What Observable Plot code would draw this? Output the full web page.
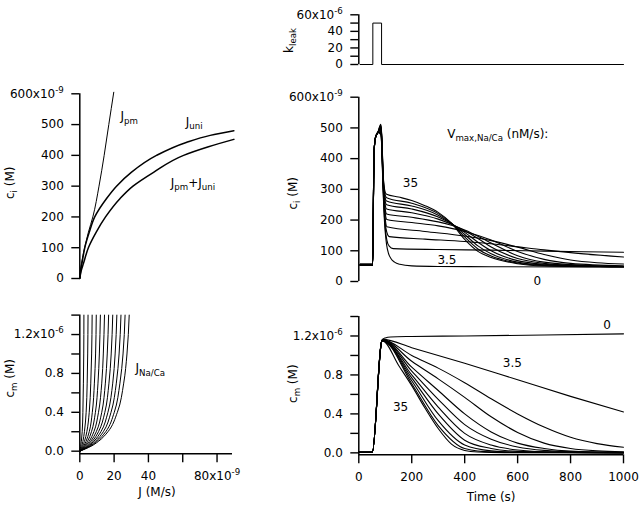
<!DOCTYPE html>
<html><head><meta charset="utf-8">
<script src="https://cdn.jsdelivr.net/npm/d3@7"></script>
<script src="https://cdn.jsdelivr.net/npm/@observablehq/plot@0.6"></script>
<style>
body{margin:0;background:#fff;}
#fig{position:relative;width:640px;height:505px;overflow:hidden;background:#fff;font-family:"DejaVu Sans",sans-serif;}
#fig svg{position:absolute;overflow:visible;}
#fig g[aria-label^="y-axis"] line,#fig g[aria-label^="x-axis"] line,
#fig g[aria-label^="y-axis"] path,#fig g[aria-label^="x-axis"] path{stroke-width:1.4px;}
</style></head><body><div id="fig"></div>
<script>
// ---------- Top-left: c_i (nM) versus J (nM/s) ----------
const ciPm  = [0, 25, 50, 100, 150, 200, 300, 400, 500, 605];
const jPm   = [0, 0.3, 1.0, 2.8, 5.0, 7.6, 11.2, 14.2, 16.9, 19.8];
const ciUni = [0, 25, 50, 100, 150, 200, 260, 300, 345, 400, 442, 465, 480];
const jUni  = [0, 0.5, 1.3, 2.9, 5.5, 8.7, 15.6, 21.4, 30, 44.7, 62, 76, 89.8];
const ciSum = [0, 25, 50, 100, 150, 200, 260, 300, 345, 400, 428, 452];
const jSum  = [0, 0.8, 2.2, 5, 9.5, 15, 23.5, 31, 43, 60.5, 75, 89.8];
const ciTicksA = [0, 100, 200, 300, 400, 500, 600];

// ---------- Bottom-left: c_m (uM) versus J_Na/Ca (nM/s) ----------
const cmLevels = [0, 0.05, 0.1, 0.2, 0.4, 0.7, 1.0, 1.4];
const jNaCa = [
  [0, 0.5, 0.9, 1.4, 1.8, 2.1, 2.3, 2.4],
  [0, 1.1, 1.8, 2.7, 3.7, 4.3, 4.6, 4.8],
  [0, 1.6, 2.7, 4.1, 5.5, 6.4, 6.9, 7.2],
  [0, 2.2, 3.6, 5.5, 7.3, 8.5, 9.2, 9.6],
  [0, 2.7, 4.5, 6.8, 9.1, 10.6, 11.4, 12.0],
  [0, 3.2, 5.4, 8.2, 10.9, 12.8, 13.7, 14.4],
  [0, 3.8, 6.3, 9.6, 12.8, 14.9, 16.0, 16.8],
  [0, 4.3, 7.2, 10.9, 14.6, 17.0, 18.3, 19.2],
  [0, 4.8, 8.1, 12.3, 16.4, 19.2, 20.6, 21.6],
  [0, 5.4, 9.0, 13.7, 18.2, 21.3, 22.9, 24.0],
  [0, 5.9, 9.9, 15.1, 20.1, 23.4, 25.2, 26.4],
  [0, 6.5, 10.8, 16.4, 21.9, 25.6, 27.5, 28.8]
];
const jTicks = [0, 20, 40, 60, 80];
const cmTicks = [0, 0.2, 0.4, 0.6, 0.8, 1.0, 1.2, 1.4];

// ---------- Top-right: k_leak (1e-6 /s) versus time (s) ----------
const kleakTime  = [5, 53, 53, 86, 86, 1000];
const kleakValue = [0, 0, 50, 50, 0, 0];
const kleakTicks = [0, 10, 20, 30, 40, 50, 60];

// ---------- Right: V_max,Na/Ca series (nM/s) ----------
const vmax = [0, 3.5, 7, 10.5, 14, 17.5, 21, 24.5, 28, 31.5, 35];

// c_i (nM) versus time
const ciBase  = [52, 52, 53, 53, 54, 54, 55, 55, 56, 56, 57];
const ciRiseT = [54, 56, 59, 63, 72];
const ciRiseC = [150, 330, 440, 468, 485];
const ciPeak  = [478, 482, 486, 490, 494, 497, 500, 503, 506, 509, 512];
const ciTailT = [
  [86, 89, 92, 96, 100, 105, 112, 122, 135, 155, 200, 300, 500, 1000],
  [86, 89, 92, 96, 100, 106, 115, 130, 300, 500, 700, 850, 1000],
  [86, 89, 92, 96, 100, 106, 115, 250, 400, 550, 700, 850, 1000],
  [86, 89, 92, 96, 100, 106, 250, 400, 500, 600, 700, 800, 900, 1000],
  [86, 89, 92, 96, 100, 106, 200, 300, 400, 500, 600, 700, 800, 1000],
  [86, 89, 92, 96, 100, 105, 200, 300, 350, 400, 500, 600, 700, 850, 1000],
  [86, 89, 92, 96, 100, 105, 200, 300, 350, 400, 450, 500, 600, 700, 850, 1000],
  [86, 89, 92, 96, 100, 105, 200, 300, 350, 400, 450, 500, 600, 700, 850, 1000],
  [86, 89, 92, 96, 100, 105, 200, 300, 350, 400, 450, 500, 600, 700, 1000],
  [86, 89, 92, 96, 100, 105, 200, 300, 350, 400, 450, 500, 600, 700, 1000],
  [86, 89, 92, 96, 100, 105, 150, 200, 250, 300, 350, 400, 450, 500, 600, 700, 1000]
];
const ciTailC = [
  [450, 370, 290, 210, 160, 120, 92, 74, 63, 56, 51, 49, 48, 47],
  [455, 380, 300, 225, 172, 135, 115, 107, 104, 102, 99, 97, 95],
  [460, 385, 310, 240, 190, 160, 146, 138, 130, 118, 103, 90, 80],
  [465, 390, 315, 250, 205, 178, 163, 148, 133, 112, 88, 70, 61, 57],
  [468, 395, 320, 260, 222, 202, 192, 181, 163, 135, 98, 72, 59, 51],
  [472, 400, 325, 268, 235, 220, 209, 194, 183, 168, 125, 84, 63, 53, 49],
  [475, 405, 330, 276, 248, 236, 224, 203, 186, 165, 140, 112, 75, 59, 51, 48],
  [478, 410, 335, 284, 260, 250, 236, 210, 188, 160, 128, 100, 68, 56, 50, 48],
  [480, 415, 340, 292, 271, 262, 246, 216, 189, 153, 116, 90, 63, 54, 48],
  [483, 420, 345, 300, 281, 273, 255, 221, 190, 145, 106, 83, 60, 52, 48],
  [486, 425, 350, 308, 290, 284, 275, 264, 247, 225, 190, 137, 98, 78, 58, 51, 48]
];
const ciTicksD = [0, 100, 200, 300, 400, 500, 600];

// c_m (uM) versus time
const cmRiseT = [0, 51, 86];
const cmRiseC = [0.005, 0.005, 1.14];
const cmTailT = [
  [90, 100, 120, 200, 400, 700, 1000],
  [90, 200, 400, 600, 800, 1000],
  [90, 200, 300, 400, 500, 600, 700, 800, 900, 1000],
  [90, 200, 300, 400, 500, 600, 700, 800, 900, 1000],
  [90, 200, 300, 400, 500, 600, 700, 800, 1000],
  [90, 200, 300, 400, 500, 600, 700, 850, 1000],
  [90, 200, 300, 400, 500, 600, 750, 1000],
  [90, 200, 300, 400, 500, 600, 800, 1000],
  [90, 200, 300, 400, 500, 600, 1000],
  [90, 200, 300, 400, 500, 1000],
  [90, 150, 200, 250, 300, 350, 400, 450, 550, 1000]
];
const cmTailC = [
  [1.165, 1.18, 1.19, 1.195, 1.2, 1.21, 1.222],
  [1.165, 1.08, 0.92, 0.75, 0.58, 0.42],
  [1.16, 1.0, 0.87, 0.72, 0.555, 0.40, 0.265, 0.16, 0.095, 0.058],
  [1.16, 0.94, 0.76, 0.57, 0.37, 0.21, 0.10, 0.045, 0.02, 0.01],
  [1.16, 0.88, 0.64, 0.40, 0.215, 0.10, 0.045, 0.018, 0.005],
  [1.16, 0.84, 0.55, 0.29, 0.14, 0.06, 0.025, 0.008, 0.003],
  [1.155, 0.80, 0.47, 0.20, 0.08, 0.03, 0.008, 0.002],
  [1.155, 0.77, 0.40, 0.13, 0.045, 0.015, 0.004, 0.001],
  [1.15, 0.74, 0.33, 0.08, 0.02, 0.007, 0.001],
  [1.15, 0.71, 0.28, 0.045, 0.01, 0],
  [1.15, 0.9, 0.69, 0.46, 0.25, 0.09, 0.025, 0.008, 0.002, 0]
];
const timeTicks = [0, 200, 400, 600, 800, 1000];

// ---------- build tables from the arrays ----------
const pmData  = ciPm.map((c, i) => ({j: jPm[i], c}));
const uniData = ciUni.map((c, i) => ({j: jUni[i], c}));
const sumData = ciSum.map((c, i) => ({j: jSum[i], c}));
const naCaData = jNaCa.flatMap((row, k) => row.map((j, i) => ({k, j, c: cmLevels[i]})));
const kleakData = kleakTime.map((t, i) => ({t, v: kleakValue[i]}));
const ciData = vmax.flatMap((v, k) => [
  [5, ciBase[k]], [52, ciBase[k]],
  ...ciRiseT.map((t, i) => [t, ciRiseC[i]]),
  [83, ciPeak[k]],
  ...ciTailT[k].map((t, i) => [t, ciTailC[k][i]])
].map(([t, c]) => ({k, t, c})));
const cmData = vmax.flatMap((v, k) => [
  ...cmRiseT.map((t, i) => [t, cmRiseC[i]]),
  ...cmTailT[k].map((t, i) => [t, cmTailC[k][i]])
].map(([t, c]) => ({k, t, c})));

// ---------- helpers ----------
const FONT = {fontFamily: "DejaVu Sans, sans-serif", fontSize: "12px", background: "transparent", color: "black", overflow: "visible"};
const fig = document.getElementById("fig");
function rich(svg) {
  const NS = "http://www.w3.org/2000/svg";
  svg.querySelectorAll("text").forEach(t => {
    const s = t.textContent;
    if (!/[_^]\{/.test(s)) return;
    while (t.firstChild) t.removeChild(t.firstChild);
    let shift = 0;
    const add = (txt, kind) => {
      const sp = document.createElementNS(NS, "tspan");
      const target = kind === "_" ? 3.5 : kind === "^" ? -5 : 0;
      const dy = target - shift; shift = target;
      if (dy) sp.setAttribute("dy", dy);
      if (kind !== "n") sp.setAttribute("style", "font-size:0.72em");
      sp.textContent = txt; t.appendChild(sp);
    };
    const re = /([_^])\{([^}]*)\}/g; let last = 0, m;
    while ((m = re.exec(s))) {
      if (m.index > last) add(s.slice(last, m.index), "n");
      add(m[2], m[1]); last = re.lastIndex;
    }
    if (last < s.length) add(s.slice(last), "n");
  });
}
function place(svg, left, top) {
  svg.style.left = left + "px"; svg.style.top = top + "px";
  rich(svg); fig.appendChild(svg);
}

// ---------- Panel A: top-left ----------
place(Plot.plot({
  width: 250, height: 230, marginLeft: 79.3, marginRight: 16.3, marginTop: 33.3, marginBottom: 12,
  style: FONT,
  x: {domain: [0, 90], axis: null},
  y: {domain: [0, 600], ticks: ciTicksA, tickSize: 8, tickPadding: 8, label: null,
      tickFormat: d => d === 600 ? "600x10^{-9}" : String(d)},
  marks: [
    Plot.ruleX([0], {y1: 0, y2: 600, strokeWidth: 1.5}),
    Plot.line(pmData, {x: "j", y: "c", curve: "monotone-y", strokeWidth: 1}),
    Plot.line(uniData, {x: "j", y: "c", curve: "monotone-y", strokeWidth: 1.5}),
    Plot.line(sumData, {x: "j", y: "c", curve: "monotone-y", strokeWidth: 1.5}),
    Plot.text([{x: 23.7, y: 527, s: "J_{pm}"}, {x: 61.7, y: 508, s: "J_{uni}"}, {x: 53, y: 311, s: "J_{pm}+J_{uni}"}],
      {x: "x", y: "y", text: "s", textAnchor: "start", fontSize: 12}),
    Plot.text([{x: 0, y: 311, s: "c_{i} (M)"}], {x: "x", y: "y", text: "s", dx: -70, rotate: -90, fontSize: 12})
  ]
}), 0, 60);

// ---------- Panel B: bottom-left ----------
place(Plot.plot({
  width: 250, height: 215, marginLeft: 79.3, marginRight: 16.3, marginTop: 24.6, marginBottom: 51.7,
  style: FONT,
  x: {domain: [0, 90], ticks: jTicks, tickSize: 9, tickPadding: 9, label: null,
      tickFormat: d => d === 80 ? "80x10^{-9}" : d === 60 ? "" : String(d)},
  y: {domain: [-0.027, 1.4], ticks: cmTicks, tickSize: 8, tickPadding: 8, label: null,
      tickFormat: d => d === 0 ? "0.0" : d === 0.4 ? "0.4" : d === 0.8 ? "0.8" : d === 1.2 ? "1.2x10^{-6}" : ""},
  marks: [
    Plot.ruleX([0], {y1: -0.027, y2: 1.4, strokeWidth: 1.5}),
    Plot.ruleY([-0.027], {x1: 0, x2: 89, strokeWidth: 1.5}),
    Plot.line(naCaData, {x: "j", y: "c", z: "k", curve: "monotone-y", strokeWidth: 1}),
    Plot.text([{x: 32.5, y: 0.85, s: "J_{Na/Ca}"}], {x: "x", y: "y", text: "s", textAnchor: "start", fontSize: 12}),
    Plot.text([{x: 0, y: 0.75, s: "c_{m} (M)"}], {x: "x", y: "y", text: "s", dx: -70, rotate: -90, fontSize: 12}),
    Plot.text([{x: 45, y: -0.027, s: "J (M/s)"}], {x: "x", y: "y", text: "s", dy: 38, fontSize: 12})
  ]
}), 0, 290);

// ---------- Panel C: k_leak ----------
place(Plot.plot({
  width: 350, height: 80, marginLeft: 68.3, marginRight: 17, marginTop: 14.3, marginBottom: 16,
  style: FONT,
  x: {domain: [0, 1000], axis: null},
  y: {domain: [0, 60], ticks: kleakTicks, tickSize: 8, tickPadding: 8, label: null,
      tickFormat: d => d === 60 ? "60x10^{-6}" : d % 20 === 0 ? String(d) : ""},
  marks: [
    Plot.ruleX([0], {y1: 0, y2: 60, strokeWidth: 1.5}),
    Plot.line(kleakData, {x: "t", y: "v", strokeWidth: 1}),
    Plot.text([{x: 0, y: 29, s: "k_{leak}"}], {x: "x", y: "y", text: "s", dx: -70, rotate: -90, fontSize: 12})
  ]
}), 290, 0);

// ---------- Panel D: c_i versus time ----------
place(Plot.plot({
  width: 350, height: 210, marginLeft: 68.3, marginRight: 17, marginTop: 16.7, marginBottom: 9,
  style: FONT,
  x: {domain: [0, 1000], axis: null},
  y: {domain: [0, 600], ticks: ciTicksD, tickSize: 8, tickPadding: 8, label: null,
      tickFormat: d => d === 600 ? "600x10^{-9}" : String(d)},
  marks: [
    Plot.ruleX([0], {y1: 0, y2: 600, strokeWidth: 1.5}),
    Plot.line(ciData, {x: "t", y: "c", z: "k", curve: "monotone-x", strokeWidth: 1.1}),
    Plot.text([{x: 334, y: 481, s: "V_{max,Na/Ca} (nM/s):"}], {x: "x", y: "y", text: "s", textAnchor: "start", fontSize: 12}),
    Plot.text([{x: 195, y: 319, s: "35"}, {x: 333, y: 68, s: "3.5"}, {x: 674, y: 2, s: "0"}], {x: "x", y: "y", text: "s", fontSize: 12}),
    Plot.text([{x: 0, y: 287, s: "c_{i} (M)"}], {x: "x", y: "y", text: "s", dx: -66, rotate: -90, fontSize: 12})
  ]
}), 290, 80);

// ---------- Panel E: c_m versus time ----------
place(Plot.plot({
  width: 350, height: 215, marginLeft: 68.3, marginRight: 17, marginTop: 26, marginBottom: 50.7,
  style: FONT,
  x: {domain: [0, 1000], ticks: timeTicks, tickSize: 9, tickPadding: 9, label: null, tickFormat: d => String(d)},
  y: {domain: [-0.02, 1.4], ticks: cmTicks, tickSize: 8, tickPadding: 8, label: null,
      tickFormat: d => d === 0 ? "0.0" : d === 0.4 ? "0.4" : d === 0.8 ? "0.8" : d === 1.2 ? "1.2x10^{-6}" : ""},
  marks: [
    Plot.ruleX([0], {y1: -0.02, y2: 1.4, strokeWidth: 1.5}),
    Plot.ruleY([-0.02], {x1: 0, x2: 1000, strokeWidth: 1.5}),
    Plot.line(cmData, {x: "t", y: "c", z: "k", curve: "monotone-x", strokeWidth: 1.1}),
    Plot.text([{x: 938, y: 1.31, s: "0"}, {x: 580, y: 0.92, s: "3.5"}, {x: 158, y: 0.47, s: "35"}], {x: "x", y: "y", text: "s", fontSize: 12}),
    Plot.text([{x: 0, y: 0.71, s: "c_{m} (M)"}], {x: "x", y: "y", text: "s", dx: -66, rotate: -90, fontSize: 12}),
    Plot.text([{x: 500, y: -0.02, s: "Time (s)"}], {x: "x", y: "y", text: "s", dy: 42, fontSize: 12})
  ]
}), 290, 290);
</script>
</body></html>
